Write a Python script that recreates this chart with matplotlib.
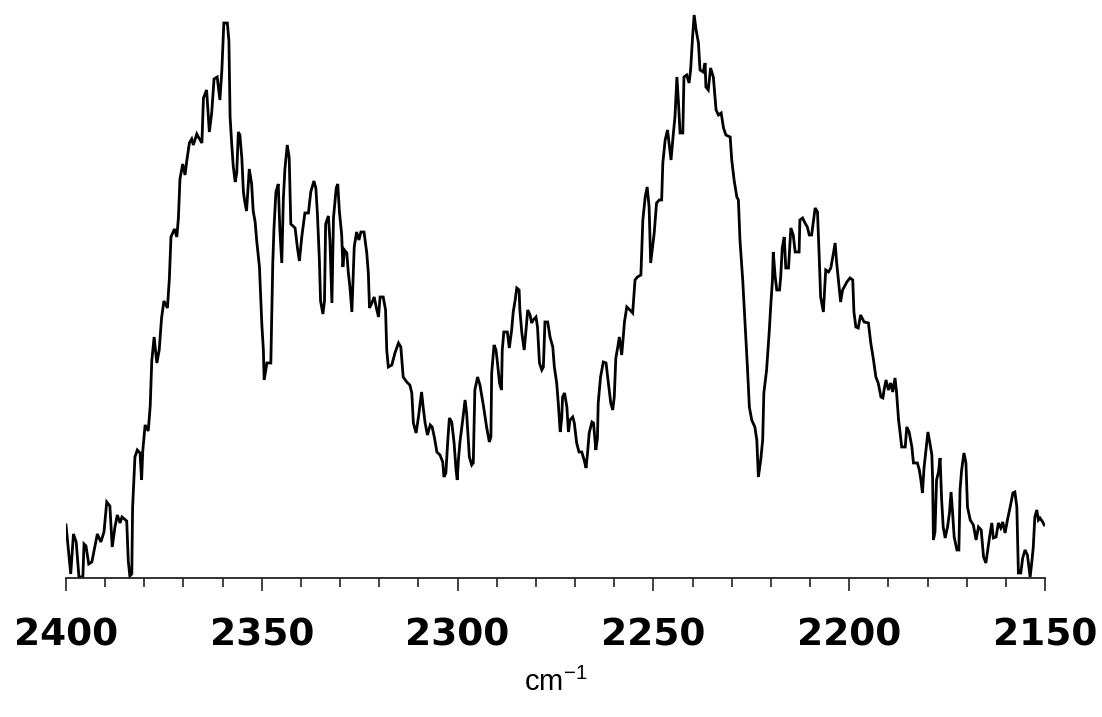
import matplotlib
matplotlib.use("Agg")
import matplotlib.pyplot as plt
from matplotlib.ticker import MultipleLocator

# IR spectrum, wavenumber (cm-1) vs absorbance (arbitrary units)
wavenumber = [
    2400.0, 2398.8, 2398.1, 2397.4, 2396.7, 2395.7, 2395.4, 2394.9, 2394.2, 2393.4,
    2392.6, 2392.0, 2391.1, 2390.3, 2389.6, 2388.8, 2388.2, 2387.5, 2386.9, 2386.2,
    2385.7, 2384.5, 2384.1, 2383.7, 2383.2, 2383.0, 2382.4, 2381.8, 2381.1, 2380.7,
    2380.4, 2379.8, 2379.0, 2378.5, 2378.1, 2377.5, 2376.8, 2376.2, 2375.6, 2375.0,
    2374.1, 2373.6, 2373.2, 2372.3, 2371.7, 2371.3, 2370.9, 2370.2, 2369.6, 2369.2,
    2368.5, 2367.9, 2367.5, 2366.6, 2366.2, 2365.3,
    2364.9, 2364.1, 2363.4, 2362.8, 2362.2, 2361.4, 2360.7, 2360.2, 2359.7, 2358.8,
    2358.4, 2358.1, 2357.7, 2357.3, 2356.8, 2356.4, 2356.0, 2355.6, 2355.1, 2354.7,
    2354.3, 2353.9, 2353.2, 2352.6, 2352.2, 2351.7, 2351.3, 2350.6, 2350.0, 2349.6,
    2349.4, 2348.7, 2347.7, 2347.2, 2346.9, 2346.4, 2345.8, 2345.4, 2344.9, 2344.5,
    2344.1, 2343.5, 2343.0, 2342.6, 2341.5, 2340.9, 2340.4, 2339.8, 2339.0, 2338.1,
    2337.5, 2336.7, 2336.2, 2335.8, 2335.3, 2335.0, 2334.4, 2334.0, 2333.7, 2333.0,
    2332.6, 2332.1, 2331.7, 2331.0, 2330.6, 2330.2, 2329.6, 2329.3, 2328.9,
    2328.3, 2327.9, 2327.5, 2327.0, 2326.6, 2326.4, 2325.8, 2325.2, 2324.7, 2323.9,
    2323.2, 2322.8, 2322.5, 2321.9, 2321.3, 2320.8, 2320.2, 2319.8, 2319.0, 2318.4,
    2318.1, 2317.7, 2316.8, 2316.0, 2315.1, 2314.5, 2313.9, 2313.0, 2312.2, 2311.7,
    2311.3, 2310.6, 2310.0, 2309.2, 2308.8, 2308.3, 2307.7, 2307.0, 2306.5, 2305.9,
    2305.3, 2304.5, 2303.8, 2303.5, 2303.0, 2302.5, 2302.1, 2301.5, 2300.9, 2300.4,
    2300.1, 2299.8, 2299.4, 2298.7, 2298.1, 2297.7, 2297.0, 2296.4, 2296.0, 2295.6,
    2294.9, 2294.3, 2293.4, 2292.6, 2291.9, 2291.5, 2291.3, 2290.7, 2290.2, 2289.9,
    2289.3, 2288.8, 2288.6, 2288.2, 2287.3, 2286.8, 2286.2, 2285.8, 2285.3, 2284.9,
    2284.3, 2284.1, 2283.6, 2283.0, 2282.6, 2282.1, 2281.5, 2281.1, 2280.7, 2280.0,
    2279.6, 2279.1, 2278.5, 2278.1, 2277.7, 2277.0, 2276.4, 2275.7, 2275.3, 2274.7,
    2274.3, 2273.8, 2273.4, 2273.2, 2272.7, 2272.1, 2271.7, 2271.3, 2270.6, 2270.2,
    2269.6, 2269.0, 2268.3, 2267.7, 2267.2, 2266.8, 2266.4, 2265.7, 2265.3, 2264.7,
    2264.3, 2264.1, 2263.5, 2262.8, 2262.1, 2261.5, 2260.9, 2260.4, 2260.0, 2259.6,
    2259.1, 2258.7, 2258.1, 2257.7, 2257.4, 2256.8, 2256.0, 2255.3, 2254.7, 2254.1,
    2253.2, 2252.7, 2252.1, 2251.6, 2251.1, 2250.7, 2250.3, 2249.8, 2249.2, 2248.5,
    2247.9, 2247.6, 2247.0, 2246.4, 2245.9, 2245.5, 2244.9, 2244.5, 2244.0, 2243.6,
    2243.2, 2242.5, 2242.2, 2241.5, 2240.9, 2240.5, 2240.0, 2239.6, 2239.1, 2238.5,
    2238.1, 2237.3, 2236.8, 2236.6, 2236.0, 2235.4, 2234.7, 2234.0, 2233.4, 2232.7,
    2232.1, 2231.5, 2230.4, 2230.0, 2229.4, 2228.7, 2228.3, 2227.9, 2227.2, 2226.6,
    2226.0, 2225.5, 2224.9, 2224.1, 2223.6, 2223.2, 2222.6, 2222.1, 2221.8, 2221.1,
    2220.4, 2220.0, 2219.6, 2219.4, 2218.9, 2218.5, 2217.8, 2217.5, 2217.1, 2216.6,
    2216.2, 2215.5, 2214.9, 2214.3, 2213.8, 2212.8, 2212.6, 2211.9, 2211.3, 2210.7,
    2210.2, 2209.6, 2209.2, 2208.7, 2208.1, 2207.7, 2207.3, 2206.6, 2206.0, 2205.3,
    2204.7, 2204.2, 2203.6, 2203.2, 2202.6, 2202.2, 2201.7, 2200.6, 2199.8, 2199.1,
    2198.8, 2198.3, 2197.7, 2197.1, 2196.2, 2195.1, 2194.5, 2193.8, 2193.2, 2192.6,
    2191.9, 2191.4, 2191.1, 2190.6, 2190.0, 2189.4, 2188.9, 2188.3, 2187.9, 2187.4,
    2187.0, 2186.6, 2185.7, 2185.3, 2184.7, 2184.0, 2183.6, 2182.6, 2182.1, 2181.7,
    2181.3, 2180.9, 2180.4, 2179.9, 2179.4, 2178.9, 2178.7, 2178.5, 2178.1, 2177.7,
    2177.2, 2176.8, 2176.4, 2176.0, 2175.5, 2174.9, 2174.4, 2174.0, 2173.6, 2173.2,
    2172.5, 2172.0, 2171.7, 2171.3, 2170.7, 2170.2, 2169.8, 2169.1, 2168.3, 2167.6,
    2167.0, 2166.3, 2165.7, 2165.1, 2164.2, 2163.6, 2163.2, 2162.5, 2161.9, 2161.3,
    2160.8, 2160.2, 2159.6, 2158.9, 2158.2, 2157.7, 2157.2, 2156.8, 2156.2, 2155.7,
    2155.1, 2154.5, 2153.8, 2153.4, 2153.0, 2152.6, 2152.1, 2151.7, 2151.3, 2150.6,
    2150.2,
]
absorbance = [
    53, 4, 44, 36, 1, 1, 34, 32, 14, 16,
    32, 44, 36, 46, 76, 72, 31, 51, 63, 55,
    61, 57, 17, 2, 4, 70, 121, 128, 125, 98,
    127, 153, 147, 172, 217, 241, 215, 228, 260, 277,
    270, 300, 341, 349, 341, 360, 399, 414, 403, 416,
    435, 439, 433, 444, 441, 435,
    480, 488, 446, 465, 499, 501, 478, 508, 555, 555,
    537, 461, 435, 412, 396, 405, 446, 443, 420, 386,
    375, 367, 409, 394, 367, 356, 337, 311, 254, 228,
    198, 215, 215, 315, 349, 386, 394, 349, 315, 379,
    409, 433, 420, 354, 350, 330, 317, 341, 365, 365,
    386, 397, 390, 364, 318, 277, 264, 277, 354, 362,
    337, 275, 360, 390, 394, 367, 343, 311, 328,
    325, 305, 291, 266, 311, 331, 346, 338, 346, 346,
    325, 305, 270, 275, 281, 271, 261, 281, 281, 268,
    228, 211, 213, 225, 235, 231, 201, 196, 193, 185,
    155, 145, 161, 186, 171, 155, 143, 153, 151, 140,
    126, 123, 116, 101, 105, 138, 160, 156, 135, 108,
    98, 118, 136, 158, 178, 165, 121, 113, 115, 188,
    201, 193, 172, 151, 136, 141, 205, 233, 228, 218,
    195, 188, 228, 246, 246, 230, 248, 266, 278, 290,
    288, 268, 245, 228, 245, 268, 263, 255, 258, 261,
    251, 215, 208, 211, 256, 256, 241, 231, 211, 195,
    175, 146, 161, 181, 185, 171, 146, 158, 161, 155,
    135, 126, 126, 118, 110, 126, 145, 156, 155, 128,
    140, 175, 201, 216, 215, 195, 175, 168, 181, 220,
    231, 241, 223, 241, 256, 271, 268, 265, 298, 301,
    303, 358, 381, 391, 371, 315, 328, 345, 375, 378,
    378, 415, 438, 448, 431, 418, 445, 461, 501, 475,
    445, 445, 501, 503, 495, 508, 541, 563, 548, 535,
    508, 506, 515, 491, 488, 510, 501, 468, 463, 465,
    450, 443, 441, 418, 398, 381, 378, 338, 298, 255,
    211, 171, 158, 151, 138, 101, 118, 138, 185, 208,
    248, 275, 298, 326, 301, 288, 288, 301, 330, 341,
    310, 310, 350, 343, 326, 326, 358, 360, 355, 351,
    343, 343, 355, 370, 366, 325, 281, 266, 308, 306,
    310, 321, 335, 315, 291, 276, 288, 296, 300, 298,
    266, 251, 250, 263, 256, 255, 235, 218, 201, 195,
    181, 180, 188, 198, 188, 195, 186, 200, 185, 158,
    145, 131, 131, 151, 146, 131, 115, 115, 108, 98,
    85, 110, 128, 146, 135, 123, 98, 38, 46, 98,
    106, 120, 78, 51, 40, 51, 65, 86, 65, 41,
    28, 28, 88, 108, 125, 115, 71, 58, 53, 38,
    51, 48, 21, 15, 40, 55, 40, 41, 55, 50,
    56, 45, 58, 71, 85, 86, 71, 5, 5, 20,
    28, 23, 1, 15, 31, 61, 68, 58, 60, 56,
    53,
]

major_ticks = [2400, 2350, 2300, 2250, 2200, 2150]

plt.rcParams["mathtext.default"] = "regular"

fig = plt.figure(figsize=(11.02, 7.17), dpi=100)
ax = fig.add_axes([0.0599, 0.1939, 0.8884, 0.8061])

ax.plot(wavenumber, absorbance, color="black", lw=2.0, solid_joinstyle="miter")

ax.set_xlim(2400, 2150)
ax.set_ylim(0, 578)

for side in ["top", "left", "right"]:
    ax.spines[side].set_visible(False)
ax.spines["bottom"].set_linewidth(1.3)
ax.spines["bottom"].set_color("#222222")
ax.set_yticks([])

ax.set_xticks(major_ticks)
ax.xaxis.set_minor_locator(MultipleLocator(10))
ax.tick_params(axis="x", which="major", direction="out", length=9.5, width=1.2,
               color="#222222", pad=19, labelsize=27)
ax.tick_params(axis="x", which="minor", direction="out", length=6.5, width=1.2,
               color="#222222")
for lab in ax.get_xticklabels():
    lab.set_fontweight("bold")
    lab.set_family("DejaVu Sans")

ax.set_xlabel("cm$^{-1}$", fontsize=21, family="Liberation Sans", labelpad=10)

fig.savefig("out.png", dpi=100)
